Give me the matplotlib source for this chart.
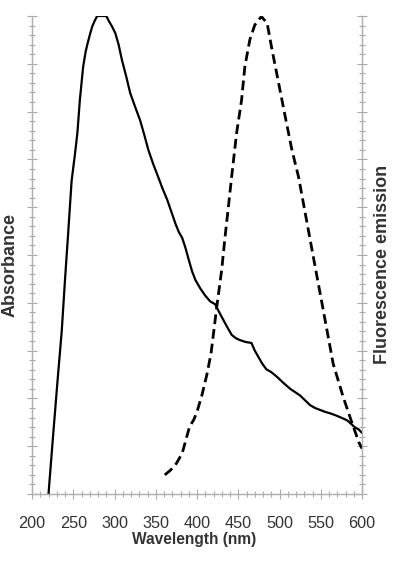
import numpy as np
import matplotlib
matplotlib.use('Agg')
import matplotlib.pyplot as plt
from matplotlib.ticker import MultipleLocator

# absorbance (solid), normalised
abs_wl = [220, 225, 231, 236, 240, 244, 248, 252, 255, 258, 262, 265, 267,
          270, 273, 276, 279, 285, 290, 293, 297, 301, 305, 309, 314, 319,
          325, 331, 336, 341, 347, 353, 358, 364, 369, 374, 378, 382, 386,
          390, 394, 398, 404, 410, 416, 422, 427, 432, 437, 442, 447, 452,
          459, 466, 470, 474, 479, 484, 490, 497, 505, 513, 519, 525, 531,
          537, 543, 549, 555, 561, 569, 577, 582, 586, 591, 596, 600]
abs_val = [0.0, 0.11, 0.238, 0.34, 0.448, 0.55, 0.655, 0.71, 0.755, 0.824,
           0.894, 0.925, 0.94, 0.96, 0.978, 0.99, 1.0, 1.0, 1.0, 0.99,
           0.978, 0.964, 0.94, 0.908, 0.875, 0.839, 0.81, 0.782, 0.752,
           0.72, 0.69, 0.663, 0.64, 0.615, 0.59, 0.565, 0.548, 0.536, 0.515,
           0.49, 0.466, 0.448, 0.43, 0.415, 0.403, 0.397, 0.38, 0.364,
           0.348, 0.333, 0.326, 0.322, 0.318, 0.316, 0.3, 0.288, 0.273,
           0.261, 0.255, 0.245, 0.232, 0.22, 0.213, 0.206, 0.196, 0.186,
           0.18, 0.176, 0.172, 0.169, 0.164, 0.158, 0.154, 0.148, 0.14,
           0.135, 0.128]

# fluorescence emission (dashed), normalised
em_wl = [361, 368, 375, 382, 391, 396, 400, 406, 412, 417, 420, 424, 430,
         434, 438, 442, 448, 454, 458, 464, 470, 478, 485, 491, 499, 507,
         515, 523, 532, 541, 553, 565, 577, 588, 596, 600]
em_val = [0.04, 0.05, 0.064, 0.085, 0.141, 0.155, 0.172, 0.207, 0.25, 0.294,
          0.336, 0.392, 0.47, 0.538, 0.6, 0.664, 0.755, 0.824, 0.894, 0.95,
          0.981, 0.999, 0.985, 0.929, 0.859, 0.789, 0.72, 0.664, 0.58, 0.496,
          0.385, 0.273, 0.204, 0.148, 0.109, 0.095]

plt.rcParams['font.family'] = ['Liberation Sans', 'DejaVu Sans']

fig = plt.figure(figsize=(4.13, 5.61), dpi=100)
ax = fig.add_axes([32/413, 1-494/561, 330/413, 478/561])
ax2 = ax.twinx()

ax.plot(abs_wl, abs_val, color='black', lw=1.6, solid_joinstyle='round')
ax2.plot(em_wl, em_val, color='black', lw=2.0, ls=(0, (3.5, 1.8)))

ax.set_xlim(200, 600)
ax.set_ylim(0, 1)
ax2.set_ylim(0, 1)

ax.xaxis.set_major_locator(MultipleLocator(50))
ax.xaxis.set_minor_locator(MultipleLocator(10))
for a in (ax, ax2):
    a.yaxis.set_major_locator(MultipleLocator(0.1))
    a.yaxis.set_minor_locator(MultipleLocator(0.02))
    for s in a.spines.values():
        s.set_color('#b0b0b0')
        s.set_linewidth(0.9)
    a.spines['top'].set_visible(False)
    a.tick_params(which='both', direction='inout', color='#a8a8a8', width=0.8)
    a.tick_params(which='major', length=7)
    a.tick_params(which='minor', length=4)
    a.tick_params(axis='y', labelleft=False, labelright=False)

ax.tick_params(axis='x', labelsize=11.7, labelcolor='#333333', pad=12)
ax.tick_params(axis='y', left=True, right=False)
ax2.tick_params(axis='y', left=False, right=True)

ax.set_xlabel('Wavelength (nm)', fontsize=11.2, fontweight='bold', color='#333333')
ax.xaxis.set_label_coords(0.49, -0.079)
ax.set_ylabel('Absorbance', fontsize=13, fontweight='bold', color='#333333')
ax.yaxis.set_label_coords(-0.042, 0.48)
ax2.set_ylabel('Fluorescence emission', fontsize=13, fontweight='bold',
               color='#333333', rotation=90)
ax2.yaxis.set_label_coords(1.036, 0.48)

fig.savefig('out.png', dpi=100)
